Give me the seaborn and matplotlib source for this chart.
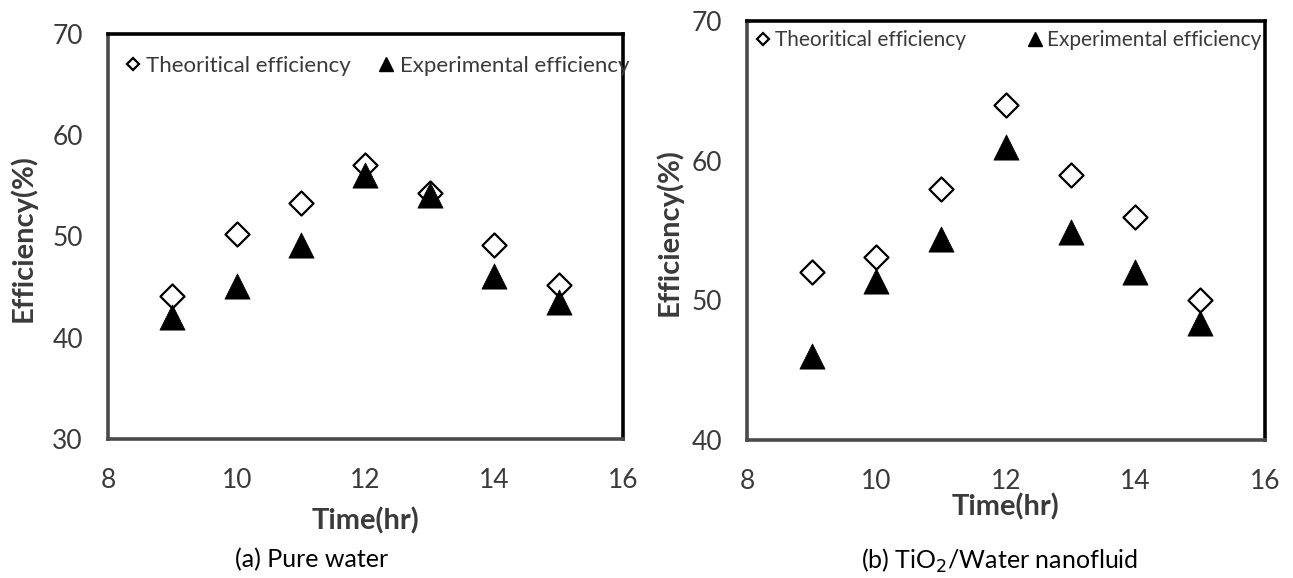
import matplotlib
matplotlib.use("Agg")
import matplotlib.pyplot as plt
from matplotlib.lines import Line2D
import pandas as pd
import seaborn as sns

# Hours of the day at which efficiency was recorded
hours = [9, 10, 11, 12, 13, 14, 15]

# (a) Pure water
water_theoretical = [44.1, 50.2, 53.3, 57.1, 54.3, 49.2, 45.2]
water_experimental = [42.0, 45.1, 49.2, 56.1, 54.1, 46.1, 43.5]

# (b) TiO2/Water nanofluid
nano_theoretical = [52.0, 53.1, 58.0, 64.0, 59.0, 56.0, 50.0]
nano_experimental = [46.0, 51.4, 54.4, 61.0, 54.9, 52.0, 48.4]

series_names = ["Theoritical efficiency", "Experimental efficiency"]
x_ticks = [8, 10, 12, 14, 16]

sns.set_theme(style="white")
plt.rcParams["font.family"] = ["Lato", "DejaVu Sans"]

TEXT = "#3a3a3a"

fig = plt.figure(figsize=(12.93, 5.78), dpi=100)
ax_a = fig.add_axes([0.0835, 0.2405, 0.3983, 0.7007])
ax_b = fig.add_axes([0.5777, 0.2388, 0.4006, 0.7249])


def long_frame(theo, expe):
    return pd.DataFrame({
        "Time": hours * 2,
        "Efficiency": theo + expe,
        "Series": [series_names[0]] * len(hours) + [series_names[1]] * len(hours),
    })


def draw_panel(ax, theo, expe, ylim, yticks, legend_anchor, colspace, legend_size):
    df = long_frame(theo, expe)
    sns.scatterplot(data=df[df.Series == series_names[0]], x="Time", y="Efficiency",
                    marker="D", s=150, facecolor="white", edgecolor="black",
                    linewidth=1.6, ax=ax, legend=False, zorder=3)
    sns.scatterplot(data=df[df.Series == series_names[1]], x="Time", y="Efficiency",
                    marker="^", s=330, color="black", edgecolor="black",
                    linewidth=0.5, ax=ax, legend=False, zorder=4)
    ax.set_xlim(8, 16)
    ax.set_ylim(*ylim)
    ax.set_xticks(x_ticks)
    ax.set_yticks(yticks)
    ax.tick_params(axis="both", length=0, labelsize=19, colors=TEXT)
    ax.tick_params(axis="x", pad=21)
    ax.tick_params(axis="y", pad=18)
    for side in ["top", "right"]:
        ax.spines[side].set_color("black")
        ax.spines[side].set_linewidth(2.6)
    for side in ["left", "bottom"]:
        ax.spines[side].set_color("#4a4a4a")
        ax.spines[side].set_linewidth(2.6)
    ax.set_xlabel("Time(hr)", fontsize=21, fontweight="bold", color=TEXT)
    ax.set_ylabel("Efficiency(%)", fontsize=21, fontweight="bold", color=TEXT)
    handles = [
        Line2D([], [], linestyle="none", marker="D", markersize=6,
               markerfacecolor="white", markeredgecolor="black", markeredgewidth=1.6),
        Line2D([], [], linestyle="none", marker="^", markersize=10,
               markerfacecolor="black", markeredgecolor="black"),
    ]
    leg = ax.legend(handles, series_names, loc="upper left",
                    bbox_to_anchor=legend_anchor, ncol=2, frameon=False,
                    fontsize=legend_size, handlelength=0.6, handletextpad=0.3,
                    columnspacing=colspace, borderaxespad=0, borderpad=0)
    for t in leg.get_texts():
        t.set_color(TEXT)
    leg.set_clip_on(False)


draw_panel(ax_a, water_theoretical, water_experimental, (30, 70),
           [30, 40, 50, 60, 70], (0.035, 0.945), 1.3, 16)
draw_panel(ax_b, nano_theoretical, nano_experimental, (40, 70),
           [40, 50, 60, 70], (0.018, 0.978), 3.0, 15)

ax_a.yaxis.set_label_coords(-0.138, 0.496)
ax_b.yaxis.set_label_coords(-0.125, 0.496)
ax_a.xaxis.set_label_coords(0.5, -0.168)
ax_b.xaxis.set_label_coords(0.5, -0.127)

fig.text(312 / 1293, 1 - 560 / 578, "(a) Pure water", ha="center", va="center",
         fontsize=18, color="black")
fig.text(1000 / 1293, 1 - 561 / 578, "(b) TiO$_2$/Water nanofluid", ha="center",
         va="center", fontsize=18, color="black")

fig.savefig("out.png", dpi=100)
